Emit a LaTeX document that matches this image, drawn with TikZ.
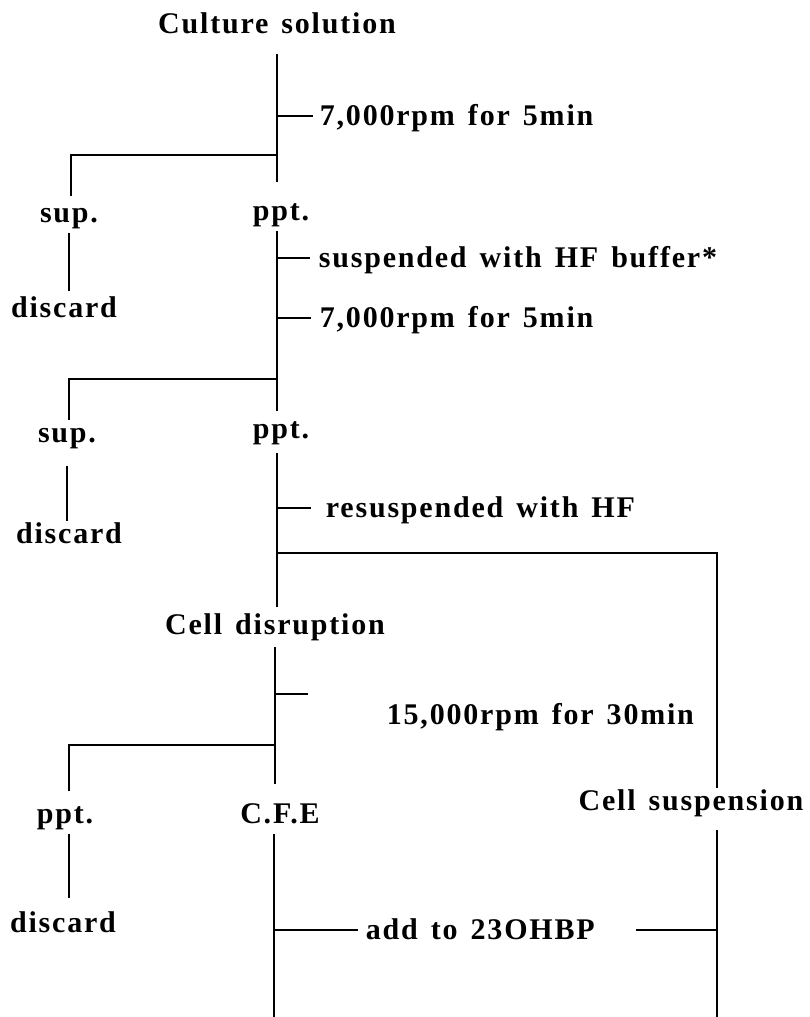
\documentclass[tikz,border=0pt]{standalone}
\usepackage{fontspec}
\setmainfont{Liberation Serif}[LetterSpace=6.0, WordSpace=1.4]
\usetikzlibrary{positioning}

\begin{document}
\begin{tikzpicture}[
        x=1pt, y=-1pt, line width=1.8pt,
        lbl/.style={font=\fontsize{30}{36}\selectfont\bfseries, inner sep=0pt, text height=21pt, text depth=6.6pt, anchor=base},
        note/.style={font=\fontsize{30}{36}\selectfont\bfseries, inner sep=0pt, text height=21pt, text depth=3pt, anchor=west}
    ]

    \useasboundingbox (0,0) rectangle (810,1017);

    \coordinate (b1) at (277,155);
    \coordinate (l1) at (71,155);
    \coordinate (t1) at (277,116);
    \coordinate (t2) at (277,258);
    \coordinate (t3) at (277,318);
    \coordinate (b2) at (277,379);
    \coordinate (l2) at (69,379);
    \coordinate (t4) at (277,508);
    \coordinate (b3) at (277,553);
    \coordinate (r3) at (717,553);
    \coordinate (t5) at (276,694);
    \coordinate (t5e) at (308,694);
    \coordinate (b4) at (275,745);
    \coordinate (l4) at (69,745);
    \coordinate (t6) at (274,930);
    \coordinate (t7) at (717,930);
    \coordinate (e1) at (274,1017);
    \coordinate (e2) at (717,1017);

    \node[lbl] (cult) at (277,33) {Culture solution};
    \node[lbl] (sup1) at (69,222) {sup.};
    \node[lbl] (ppt1) at (281,220) {ppt.};
    \node[lbl] (dis1) at (64,317) {discard};
    \node[lbl] (sup2) at (67,442) {sup.};
    \node[lbl] (ppt2) at (281,438) {ppt.};
    \node[lbl] (dis2) at (69,543) {discard};
    \node[lbl] (celld) at (275,634) {Cell disruption};
    \node[lbl] (ppt3) at (65,823) {ppt.};
    \node[lbl] (cfe) at (280,823) {C.F.E};
    \node[lbl] (cells) at (691,810) {Cell suspension};
    \node[lbl] (dis3) at (63,932) {discard};

    \node[note, right=42pt of t1] (spin1) {7,000rpm for 5min};
    \node[note, right=41pt of t2] (susp) {suspended with HF buffer*};
    \node[note, right=42pt of t3] (spin2) {7,000rpm for 5min};
    \node[note, right=48pt of t4] (resusp) {resuspended with HF};
    \node[note] (spin3) at (386,715) {15,000rpm for 30min};
    \node[note, right=91pt of t6] (add) {add to 23OHBP};

    \draw[shorten <=13pt, shorten >=16pt] (cult) -- (b1) -- (b1 |- ppt1.north);
    \draw[shorten >=4pt] (b1) -- (l1) -- (l1 |- sup1.north);
    \draw[shorten <=3.4pt, shorten >=4pt] (sup1.south) -- (sup1.south |- dis1.north);
    \draw[shorten >=6pt] (t1) -- (spin1);

    \draw[shorten <=3.4pt, shorten >=5pt] (b1 |- ppt1.south) -- (b2) -- (b2 |- ppt2.north);
    \draw[shorten >=8pt] (t2) -- (susp);
    \draw[shorten >=8pt] (t3) -- (spin2);
    \draw (b2) -- (l2) -- (l2 |- sup2.north);
    \draw[shorten <=16pt] (sup2.south) -- (sup2.south |- dis2.north);

    \draw[shorten <=7pt, shorten >=5pt] (b2 |- ppt2.south) -- (b3) -- (b3 |- celld.north);
    \draw[shorten >=14pt] (t4) -- (resusp);
    \draw (b3) -- (r3) -- (r3 |- cells.north);

    \draw[shorten <=5pt, shorten >=17pt] (b4 |- celld.south) -- (b4) -- (b4 |- cfe.north);
    \draw (t5) -- (t5e);
    \draw[shorten >=10pt] (b4) -- (l4) -- (l4 |- ppt3.north);
    \draw[shorten <=3.4pt, shorten >=12pt] (l4 |- ppt3.south) -- (l4 |- dis3.north);

    \draw[shorten <=3.4pt] (e1 |- cfe.south) -- (e1);
    \draw[shorten <=12.4pt] (e2 |- cells.south) -- (e2);
    \draw[shorten >=7pt] (t6) -- (add);
    \draw[shorten >=40pt] (t7) -- (add);

\end{tikzpicture}
\end{document}
